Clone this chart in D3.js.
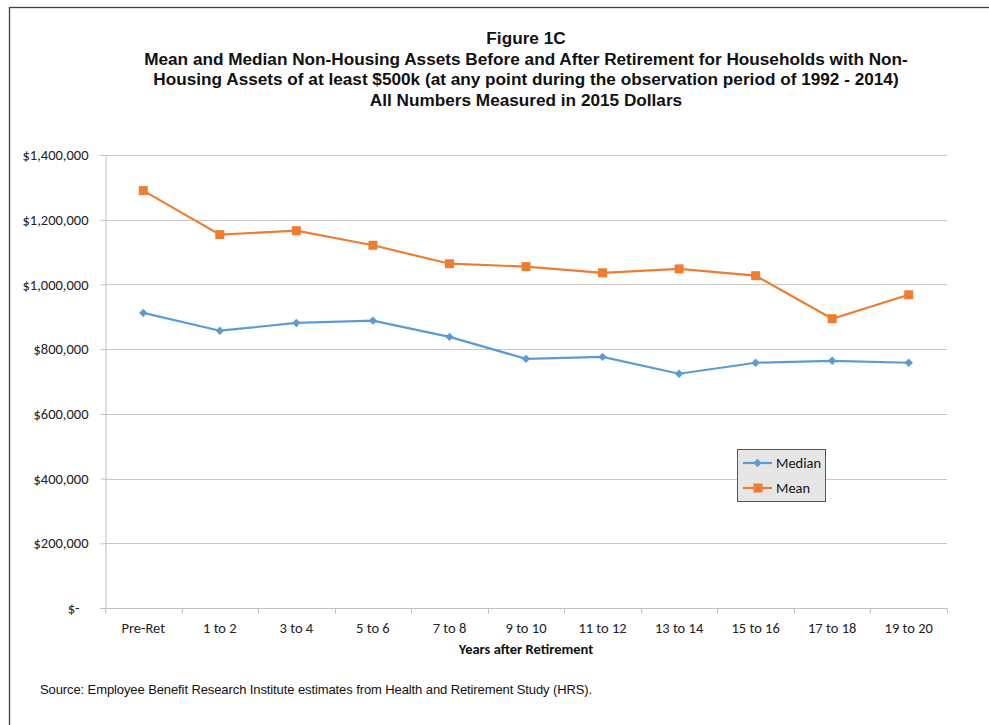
<!DOCTYPE html>
<html>
<head>
<meta charset="utf-8">
<script src="https://cdn.jsdelivr.net/npm/d3@7"></script>
<style>
  body { margin: 0; background: #fff; }
  svg { display: block; }
</style>
</head>
<body>
<script>
// data
const categories = ["Pre-Ret", "1 to 2", "3 to 4", "5 to 6", "7 to 8", "9 to 10",
  "11 to 12", "13 to 14", "15 to 16", "17 to 18", "19 to 20"];
const medianValues = [912000, 857000, 881000, 888000, 838000, 770000, 776000, 724000, 758000, 764000, 758000];
const meanValues = [1290000, 1154000, 1166000, 1121000, 1064000, 1055000, 1036000, 1048000, 1027000, 894000, 968000];
const yTicks = [0, 200000, 400000, 600000, 800000, 1000000, 1200000, 1400000];
const titleLines = [
  "Figure 1C",
  "Mean and Median Non-Housing Assets Before and After Retirement for Households with Non-",
  "Housing Assets of at least $500k (at any point during the observation period of 1992 - 2014)",
  "All Numbers Measured in 2015 Dollars"
];

const w = 989, h = 725;
const plotLeft = 105, plotRight = 947, plotTop = 155, plotBottom = 608;

const svg = d3.select("body").append("svg").attr("width", w).attr("height", h);

// outer frame
svg.append("rect")
  .attr("x", 9.5).attr("y", 7.5)
  .attr("width", w + 10).attr("height", h + 10)
  .attr("fill", "none").attr("stroke", "#404040").attr("stroke-width", 1.3);

// title
svg.append("g").selectAll("text")
  .data(titleLines)
  .enter()
  .append("text")
  .attr("x", 526)
  .attr("y", (d, i) => 44 + i * 20.7)
  .attr("text-anchor", "middle")
  .attr("font-family", "Liberation Sans, Arial, sans-serif")
  .attr("font-weight", "bold")
  .attr("font-size", "17.2px")
  .attr("fill", "#111")
  .text(d => d);

const xScale = d3.scaleBand().domain(categories).range([plotLeft, plotRight]);
const yScale = d3.scaleLinear().domain([0, 1400000]).range([plotBottom, plotTop]);

// gridlines
svg.append("g").selectAll("line")
  .data(yTicks.slice(1))
  .enter()
  .append("line")
  .attr("x1", plotLeft).attr("x2", plotRight)
  .attr("y1", d => Math.round(yScale(d)) + 0.5)
  .attr("y2", d => Math.round(yScale(d)) + 0.5)
  .attr("stroke", "#c8c8c8").attr("stroke-width", 1);

// y axis
const fmt = d => d === 0 ? "$-" : "$" + d3.format(",")(d);
const yAxis = d3.axisLeft(yScale).tickValues(yTicks).tickFormat(fmt).tickSize(5);
const gy = svg.append("g")
  .attr("transform", "translate(" + (plotLeft + 0.5) + ",0)")
  .call(yAxis);
gy.select(".domain").attr("stroke", "#c0c0c0");
gy.selectAll(".tick line").attr("stroke", "#c0c0c0");
gy.selectAll(".tick text")
  .attr("x", d => d === 0 ? -26 : -17)
  .attr("font-family", "Carlito, Lato, sans-serif")
  .attr("font-size", "14.5px")
  .attr("fill", "#222");

// x axis with ticks between categories
const gx = svg.append("g").attr("transform", "translate(0," + (plotBottom + 0.5) + ")");
gx.append("line")
  .attr("x1", plotLeft - 5).attr("x2", plotRight)
  .attr("stroke", "#c0c0c0");
const bounds = d3.range(categories.length + 1).map(i => plotLeft + i * xScale.bandwidth());
gx.selectAll(".bt")
  .data(bounds)
  .enter()
  .append("line")
  .attr("x1", d => Math.round(d) + 0.5).attr("x2", d => Math.round(d) + 0.5)
  .attr("y1", 0).attr("y2", 5)
  .attr("stroke", "#c0c0c0");
gx.selectAll("text")
  .data(categories)
  .enter()
  .append("text")
  .attr("x", d => xScale(d) + xScale.bandwidth() / 2)
  .attr("y", 24)
  .attr("text-anchor", "middle")
  .attr("font-family", "Carlito, Lato, sans-serif")
  .attr("font-size", "14.5px")
  .attr("fill", "#222")
  .text(d => d);

svg.append("text")
  .attr("x", 526).attr("y", 654)
  .attr("text-anchor", "middle")
  .attr("font-family", "Carlito, Lato, sans-serif")
  .attr("font-weight", "bold")
  .attr("font-size", "14.5px")
  .attr("fill", "#111")
  .text("Years after Retirement");

// lines
const cx = d => xScale(d) + xScale.bandwidth() / 2;
const line = d3.line().x(d => cx(d.c)).y(d => yScale(d.v));
const medianData = categories.map((c, i) => ({ c: c, v: medianValues[i] }));
const meanData = categories.map((c, i) => ({ c: c, v: meanValues[i] }));

svg.append("path").datum(medianData)
  .attr("d", line).attr("fill", "none")
  .attr("stroke", "#5B9BD5").attr("stroke-width", 2.2);
svg.append("path").datum(meanData)
  .attr("d", line).attr("fill", "none")
  .attr("stroke", "#ED7D31").attr("stroke-width", 2.2);

const diamond = d3.symbol().type(d3.symbolDiamond2).size(45);
svg.append("g").selectAll("path")
  .data(medianData)
  .enter()
  .append("path")
  .attr("d", diamond)
  .attr("transform", d => "translate(" + cx(d.c) + "," + yScale(d.v) + ")")
  .attr("fill", "#5B9BD5");

svg.append("g").selectAll("rect")
  .data(meanData)
  .enter()
  .append("rect")
  .attr("x", d => cx(d.c) - 4.5)
  .attr("y", d => yScale(d.v) - 4.5)
  .attr("width", 9).attr("height", 9)
  .attr("fill", "#ED7D31");

// legend
const lg = svg.append("g").attr("transform", "translate(737,449)");
lg.append("rect")
  .attr("x", 0.5).attr("y", 0.5).attr("width", 88).attr("height", 52)
  .attr("fill", "#e6e6e6").attr("stroke", "#555").attr("stroke-width", 1);
const legendItems = [
  { name: "Median", color: "#5B9BD5", y: 14 },
  { name: "Mean", color: "#ED7D31", y: 39 }
];
legendItems.forEach(it => {
  lg.append("line")
    .attr("x1", 6).attr("x2", 35).attr("y1", it.y).attr("y2", it.y)
    .attr("stroke", it.color).attr("stroke-width", 2.2);
  if (it.name === "Median") {
    lg.append("path").attr("d", diamond)
      .attr("transform", "translate(20.5," + it.y + ")")
      .attr("fill", it.color);
  } else {
    lg.append("rect")
      .attr("x", 16.5).attr("y", it.y - 4.5).attr("width", 9).attr("height", 9)
      .attr("fill", it.color);
  }
  lg.append("text")
    .attr("x", 39).attr("y", it.y + 5)
    .attr("font-family", "Carlito, Lato, sans-serif")
    .attr("font-size", "14.5px")
    .attr("fill", "#111")
    .text(it.name);
});

// source
svg.append("text")
  .attr("x", 40).attr("y", 694)
  .attr("font-family", "Liberation Sans, Arial, sans-serif")
  .attr("font-size", "13px")
  .attr("letter-spacing", "-0.1px")
  .attr("fill", "#111")
  .text("Source: Employee Benefit Research Institute estimates from Health and Retirement Study (HRS).");
</script>
</body>
</html>
